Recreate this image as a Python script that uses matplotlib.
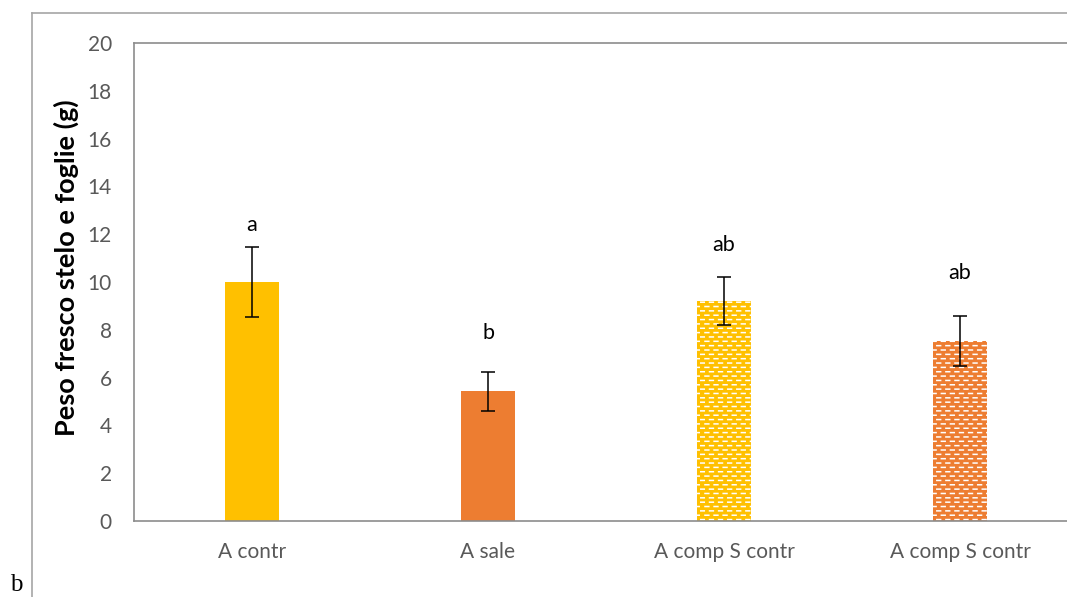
import numpy as np
import matplotlib
matplotlib.use("Agg")
import matplotlib.pyplot as plt
import matplotlib.hatch as mhatch
from matplotlib.path import Path
from matplotlib.lines import Line2D

categories = ["A contr", "A sale", "A comp S contr", "A comp S contr"]
values = [10.0, 5.42, 9.2, 7.53]
errors = [1.47, 0.83, 1.0, 1.05]
letters = ["a", "b", "ab", "ab"]
letter_y = [12.38, 7.87, 11.55, 10.38]
colors = ["#FFC000", "#ED7D31", "#FFC000", "#ED7D31"]
hatched = [False, False, True, True]
yticks = [0, 2, 4, 6, 8, 10, 12, 14, 16, 18, 20]


class DashHatch(mhatch.HatchPatternBase):
    def __init__(self, hatch, density):
        self.rows = 23 if '-' in hatch else 0
        self.per = 11
        self.num_vertices = self.rows * self.per * 2

    def set_vertices_and_codes(self, vertices, codes):
        idx = 0
        for i in range(self.rows):
            y = (i + 0.5) / self.rows
            off = 0.05 if i % 2 == 0 else 0.55
            for k in range(self.per):
                x0 = (k + off) / self.per
                x1 = (k + off + 0.42) / self.per
                vertices[idx] = (x0, y)
                vertices[idx + 1] = (x1, y)
                codes[idx] = Path.MOVETO
                codes[idx + 1] = Path.LINETO
                idx += 2


mhatch._hatch_types = [DashHatch]

plt.rcParams['font.family'] = ['Lato', 'DejaVu Sans']
plt.rcParams['hatch.linewidth'] = 1.1

W, H = 1067, 597
fig = plt.figure(figsize=(W / 100, H / 100), dpi=100)
ax = fig.add_axes([134 / W, 1 - 521 / H, 944 / W, 478 / H])

x = np.arange(len(categories))
for i in range(len(categories)):
    ax.bar(x[i], values[i], width=0.23, color=colors[i],
           hatch='-' if hatched[i] else None,
           edgecolor='white' if hatched[i] else colors[i], linewidth=0, zorder=2)
ax.errorbar(x, values, yerr=errors, fmt='none', ecolor='black', elinewidth=1.1,
            capsize=5, capthick=1.1, zorder=3)
for i in range(len(categories)):
    ax.text(x[i], letter_y[i], letters[i], ha='center', va='center',
            fontsize=15.5, color='black')

ax.set_xlim(-0.5, len(categories) - 0.5)
ax.set_ylim(0, 20)
ax.set_yticks(yticks)
ax.set_xticks(x)
ax.set_xticklabels(categories)
ax.tick_params(axis='both', length=0, labelsize=15, labelcolor='#595959')
ax.tick_params(axis='y', pad=16)
ax.tick_params(axis='x', pad=15)
for s in ax.spines.values():
    s.set_color('#8C8C8C')
    s.set_linewidth(1.2)
ax.set_ylabel("Peso fresco stelo e foglie (g)", fontsize=19.5, fontweight='bold',
              color='black', labelpad=6, y=0.529)

# outer frame
fig.add_artist(Line2D([32 / W, 32 / W], [0, 1 - 13 / H], color='#A6A6A6', lw=1.2))
fig.add_artist(Line2D([32 / W, 1], [1 - 13 / H, 1 - 13 / H], color='#A6A6A6', lw=1.2))
fig.text(10 / W, 1 - 585 / H, "b", family='Liberation Serif', fontsize=18,
         va='center', ha='left', color='black')

fig.savefig("out.png", dpi=100)
